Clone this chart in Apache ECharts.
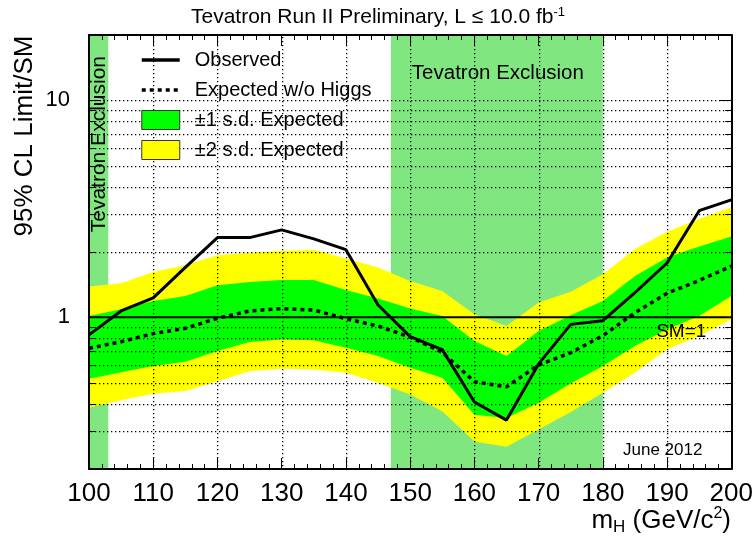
<!DOCTYPE html>
<html><head><meta charset="utf-8">
<script src="https://cdn.jsdelivr.net/npm/echarts@6/dist/echarts.min.js"></script>
<style>html,body{margin:0;padding:0;background:#fff}#c{width:756px;height:539px}</style>
</head><body><div id="c"></div>
<script>
// ---------- data ----------
const mass = [100,105,110,115,120,125,130,135,140,145,150,155,160,165,170,175,180,185,190,195,200];
const observed = [0.83,1.07,1.23,1.70,2.33,2.33,2.53,2.30,2.05,1.14,0.815,0.71,0.407,0.336,0.61,0.928,0.965,1.30,1.78,3.10,3.48];
const expected = [0.72,0.772,0.841,0.89,0.99,1.07,1.097,1.08,0.985,0.912,0.81,0.69,0.505,0.478,0.603,0.687,0.823,1.05,1.29,1.48,1.72];
const plus2  = [1.386,1.436,1.619,1.739,1.934,1.986,2.024,2.046,1.867,1.696,1.472,1.323,1.032,0.912,1.169,1.311,1.580,2.062,2.477,2.836,3.212];
const plus1  = [1.014,1.089,1.189,1.254,1.405,1.456,1.487,1.487,1.337,1.220,1.098,1.014,0.777,0.663,0.864,1.021,1.189,1.551,1.887,2.121,2.359];
const minus1 = [0.521,0.559,0.596,0.624,0.699,0.769,0.791,0.785,0.724,0.663,0.586,0.527,0.356,0.344,0.404,0.496,0.596,0.737,0.880,1.014,1.254];
const minus2 = [0.383,0.415,0.444,0.457,0.508,0.565,0.579,0.575,0.555,0.499,0.441,0.369,0.268,0.253,0.304,0.366,0.449,0.555,0.712,0.820,0.979];
const exclusionRanges = [[100,103],[147,180]];
const exclusionLabel = 'Tevatron Exclusion';
const smLevel = 1;
const xGridValues = [110,120,130,140,150,160,170,180,190];
const yGridValues = [0.3,0.4,0.5,0.6,0.7,0.8,0.9,2,3,4,5,6,7,8,9,10];
const yMinorTicks = [0.3,0.4,0.5,0.6,0.7,0.8,0.9,2,3,4,5,6,7,8,9];
const yMajorTicks = [1,10];
const yLabelValues = [1,10];
const xMin = 100, xMax = 200, yMin = 0.2, yMax = 20;

const FONT = '"Liberation Sans", Arial, Helvetica, sans-serif';
const chart = echarts.init(document.getElementById('c'), null, {renderer:'canvas'});

function bandSeries(name, lo, hi, color, z) {
  return {
    type:'custom', name:name, z:z, silent:true,
    itemStyle:{color:color},
    encode:{x:0, y:1},
    data:[[150,1]],
    renderItem:function(params, api){
      const pts = [];
      for (let i=0;i<mass.length;i++) pts.push(api.coord([mass[i], hi[i]]));
      for (let i=mass.length-1;i>=0;i--) pts.push(api.coord([mass[i], lo[i]]));
      return {type:'polygon', shape:{points:pts}, style:{fill:color, stroke:null}};
    }
  };
}

const axisLineStyle = {show:true, onZero:false, lineStyle:{color:'#000', width:2}};

const option = {
  animation:false,
  backgroundColor:'#fff',
  title:{
    text:'Tevatron Run II Preliminary, L ≤ 10.0 fb{sup|-1}',
    left:'center', top:1,
    textStyle:{fontSize:21, fontWeight:'normal', color:'#000', fontFamily:FONT, lineHeight:23,
      rich:{sup:{fontSize:13, fontFamily:FONT, color:'#000', verticalAlign:'top', lineHeight:13}}}
  },
  legend:{
    orient:'vertical', left:135, top:45, itemWidth:38, itemHeight:19, itemGap:10, z:8,
    selectedMode:false,
    textStyle:{fontSize:20, color:'#000', fontFamily:FONT, padding:[0,0,0,10]},
    data:[
      {name:'Observed', itemStyle:{opacity:0}, lineStyle:{color:'#000', width:3.5}},
      {name:'Expected w/o Higgs', itemStyle:{opacity:0}, lineStyle:{color:'#000', width:3.5, type:[4,4]}},
      {name:'±1 s.d. Expected', icon:'rect', itemStyle:{color:'#00ff00', borderColor:'#333', borderWidth:1}},
      {name:'±2 s.d. Expected', icon:'rect', itemStyle:{color:'#ffff00', borderColor:'#333', borderWidth:1}}
    ]
  },
  grid:{left:89, right:23, top:35, bottom:70, containLabel:false},
  xAxis:[
    {type:'value', min:xMin, max:xMax, interval:10, position:'bottom', z:10,
     axisLine:axisLineStyle,
     axisTick:{show:true, inside:true, length:11, lineStyle:{color:'#000', width:1}},
     minorTick:{show:true, splitNumber:5, length:5, lineStyle:{color:'#000', width:1}},
     splitLine:{show:false},
     axisLabel:{fontSize:26, color:'#000', margin:12, fontFamily:FONT}},
    {type:'value', min:xMin, max:xMax, interval:10, position:'top', z:10,
     axisLine:axisLineStyle,
     axisTick:{show:true, inside:true, length:11, lineStyle:{color:'#000', width:1}},
     minorTick:{show:true, splitNumber:5, length:5, lineStyle:{color:'#000', width:1}},
     splitLine:{show:false},
     axisLabel:{show:false}}
  ],
  yAxis:[
    {type:'log', logBase:10, min:yMin, max:yMax, position:'left', z:10,
     axisLine:axisLineStyle, axisTick:{show:false}, splitLine:{show:false},
     axisLabel:{fontSize:22, color:'#000', margin:19, fontFamily:FONT, showMinLabel:false, showMaxLabel:false,
       formatter:function(v){ return yLabelValues.some(function(t){return Math.abs(t-v)<1e-6;}) ? String(Math.round(v)) : ''; }}},
    {type:'log', logBase:10, min:yMin, max:yMax, position:'right', z:10,
     axisLine:axisLineStyle, axisTick:{show:false}, splitLine:{show:false}, axisLabel:{show:false}}
  ],
  graphic:[
    {type:'text', x:25, y:136, rotation:Math.PI/2, z:20,
     style:{text:'95% CL Limit/SM', fontSize:26, fontFamily:FONT, fill:'#000', align:'center', verticalAlign:'middle'}},
    {type:'text', right:25, top:506, z:20,
     style:{text:'m{sub|H} (GeV/c{sup|2})', fontSize:26, fontFamily:FONT, fill:'#000', lineHeight:30,
       rich:{sub:{fontSize:17, fontFamily:FONT, fill:'#000', verticalAlign:'bottom', lineHeight:14},
             sup:{fontSize:16, fontFamily:FONT, fill:'#000', verticalAlign:'top', lineHeight:14}}}},
    {type:'text', left:623, top:442, z:20,
     style:{text:'June 2012', fontSize:17, fontFamily:FONT, fill:'#000'}}
  ],
  series:[
    {
      type:'custom', name:'exclusion', z:1, silent:true,
      encode:{x:[0,1], y:2},
      data:exclusionRanges.map(function(r){return [r[0], r[1], 1];}),
      renderItem:function(params, api){
        const p0 = api.coord([api.value(0), yMax]);
        const p1 = api.coord([api.value(1), yMin]);
        const children = [{type:'rect', shape:{x:p0[0], y:p0[1], width:p1[0]-p0[0], height:p1[1]-p0[1]},
                           style:{fill:'#80e680'}}];
        const cx = (p0[0]+p1[0])/2;
        if (params.dataIndex === 0) {
          children.push({type:'text', x:cx+1, y:p0[1]+21, rotation:Math.PI/2,
            style:{text:exclusionLabel, fontSize:21, fontFamily:FONT, fill:'#000', align:'right', verticalAlign:'middle'}});
        } else {
          children.push({type:'text', x:cx+1, y:p0[1]+38,
            style:{text:exclusionLabel, fontSize:20.5, fontFamily:FONT, fill:'#000', align:'center', verticalAlign:'middle'}});
        }
        return {type:'group', children:children};
      }
    },
    bandSeries('±2 s.d. Expected', minus2, plus2, '#ffff00', 2),
    bandSeries('±1 s.d. Expected', minus1, plus1, '#00ff00', 3),
    {
      type:'custom', name:'gridAndTicks', z:4, silent:true,
      encode:{x:0, y:1},
      data:[[150,1]],
      renderItem:function(params, api){
        const children = [];
        // dotted grid: explicit dots so they stay crisp
        function dotsH(y, x0, x1) {
          for (let x = Math.round(x0) + 2; x < x1 - 1; x += 4) {
            children.push({type:'rect', shape:{x:x, y:y, width:1.3, height:1.3}, style:{fill:'#000'}});
          }
        }
        function dotsV(x, y0, y1) {
          for (let y = Math.round(y0) + 2; y < y1 - 1; y += 4) {
            children.push({type:'rect', shape:{x:x, y:y, width:1.3, height:1.3}, style:{fill:'#000'}});
          }
        }
        xGridValues.forEach(function(x){
          const a = api.coord([x, yMax]), b = api.coord([x, yMin]);
          dotsV(Math.round(a[0]), a[1], b[1]);
        });
        yGridValues.forEach(function(y){
          const a = api.coord([xMin, y]), b = api.coord([xMax, y]);
          dotsH(Math.round(a[1]), a[0], b[0]);
        });
        const tick = {stroke:'#000', lineWidth:1};
        yMinorTicks.forEach(function(y){
          const a = api.coord([xMin, y]), b = api.coord([xMax, y]);
          const py = Math.round(a[1])+0.5;
          children.push({type:'line', shape:{x1:a[0], y1:py, x2:a[0]+6, y2:py}, style:tick});
          children.push({type:'line', shape:{x1:b[0]-6, y1:py, x2:b[0], y2:py}, style:tick});
        });
        yMajorTicks.forEach(function(y){
          const a = api.coord([xMin, y]), b = api.coord([xMax, y]);
          const py = Math.round(a[1])+0.5;
          children.push({type:'line', shape:{x1:a[0], y1:py, x2:a[0]+12, y2:py}, style:tick});
          children.push({type:'line', shape:{x1:b[0]-12, y1:py, x2:b[0], y2:py}, style:tick});
        });
        // SM = 1 reference line and label
        const s0 = api.coord([xMin, smLevel]), s1 = api.coord([xMax, smLevel]);
        children.push({type:'line', shape:{x1:s0[0], y1:s0[1], x2:s1[0], y2:s1[1]}, style:{stroke:'#000', lineWidth:2}});
        children.push({type:'text', x:s1[0]-25, y:s0[1]+5,
          style:{text:'SM=1', fontSize:19, fontFamily:FONT, fill:'#000', align:'right', verticalAlign:'top'}});
        return {type:'group', children:children};
      }
    },
    {
      type:'line', name:'Expected w/o Higgs', z:5,
      data:mass.map(function(m,i){return [m, expected[i]];}),
      symbol:'none', showSymbol:false, silent:true,
      itemStyle:{color:'#000'},
      lineStyle:{color:'#000', width:3.5, type:[4,4]}
    },
    {
      type:'line', name:'Observed', z:6,
      data:mass.map(function(m,i){return [m, observed[i]];}),
      symbol:'none', showSymbol:false, silent:true,
      itemStyle:{color:'#000'},
      lineStyle:{color:'#000', width:3}
    }
  ]
};
chart.setOption(option);
</script>
</body></html>
